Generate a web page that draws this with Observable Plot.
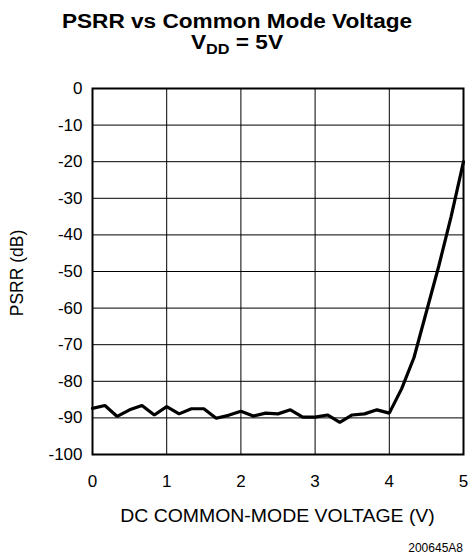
<!DOCTYPE html>
<html><head><meta charset="utf-8">
<script src="https://cdn.jsdelivr.net/npm/d3@7"></script>
<script src="https://cdn.jsdelivr.net/npm/@observablehq/plot@0.6"></script>
<style>
body{margin:0;background:#fff;font-family:"Liberation Sans",Arial,sans-serif;}
#wrap{position:relative;width:470px;height:557px;}
.t{position:absolute;color:#000;white-space:nowrap;line-height:1;}
</style></head>
<body><div id="wrap"></div>
<script>
const titleText = "PSRR vs Common Mode Voltage";
const xLabel = "DC COMMON-MODE VOLTAGE (V)";
const yLabel = "PSRR (dB)";
const caption = "200645A8";
const xTicks = [0, 1, 2, 3, 4, 5];
const yTicks = [0, -10, -20, -30, -40, -50, -60, -70, -80, -90, -100];
const vcm = [0, 0.167, 0.333, 0.5, 0.667, 0.833, 1.0, 1.167, 1.333, 1.5, 1.667, 1.833, 2.0, 2.167, 2.333, 2.5, 2.667, 2.833, 3.0, 3.167, 3.333, 3.5, 3.667, 3.833, 4.0, 4.167, 4.333, 4.5, 4.667, 4.833, 5.0];
const psrr = [-87.4, -86.6, -89.6, -87.8, -86.6, -89.2, -86.9, -88.9, -87.5, -87.5, -90.1, -89.3, -88.2, -89.5, -88.7, -88.9, -87.8, -89.8, -89.8, -89.2, -91.2, -89.2, -88.9, -87.8, -88.7, -82.0, -73.5, -61.0, -48.5, -35.0, -20.0];
const data = vcm.map((v, i) => ({v, p: psrr[i]}));

const chart = Plot.plot({
  width: 470, height: 557,
  marginTop: 88, marginBottom: 103, marginLeft: 92, marginRight: 7,
  style: {fontFamily: "Liberation Sans, Arial, sans-serif", fontSize: "17px", color: "#000", background: "#fff"},
  x: {domain: [0, 5], ticks: xTicks},
  y: {domain: [-100, 0], ticks: yTicks},
  marks: [
    Plot.gridX(xTicks, {stroke: "#000", strokeOpacity: 1, strokeWidth: 1}),
    Plot.gridY(yTicks, {stroke: "#000", strokeOpacity: 1, strokeWidth: 1}),
    Plot.axisX(xTicks, {tickSize: 0, tickPadding: 20, label: null, fontSize: 17, tickFormat: d => String(d)}),
    Plot.axisY(yTicks, {tickSize: 0, tickPadding: 10, label: null, fontSize: 17, tickFormat: d => String(d)}),
    Plot.line(data, {x: "v", y: "p", stroke: "#000", strokeWidth: 3.2, strokeLinejoin: "miter"}),
    Plot.frame({stroke: "#000", strokeWidth: 2})
  ]
});
const wrap = document.getElementById("wrap");
wrap.appendChild(chart);
chart.style.position = "absolute"; chart.style.left = "0"; chart.style.top = "0";
function addText(html, css) {
  const d = document.createElement("div");
  d.className = "t"; d.innerHTML = html; Object.assign(d.style, css); wrap.appendChild(d);
}
addText(titleText, {left: "0", width: "470px", textAlign: "center", top: "12px", fontSize: "19.5px", fontWeight: "bold", transform: "translateX(2px) scaleX(1.16)"});
addText("V<sub style='font-size:14px;vertical-align:-5px'>DD</sub> = 5V", {left: "0", width: "470px", textAlign: "center", top: "33px", fontSize: "19.5px", fontWeight: "bold", transform: "translateX(2px) scaleX(1.16)"});
addText(xLabel, {left: "92px", width: "371px", textAlign: "center", top: "507px", fontSize: "18px", transform: "scaleX(1.08)"});
addText(caption, {right: "7px", top: "542px", fontSize: "12px"});
addText(yLabel, {left: "18px", top: "273px", fontSize: "17.5px", transform: "translate(-50%,-50%) rotate(-90deg)"});
</script></body></html>
